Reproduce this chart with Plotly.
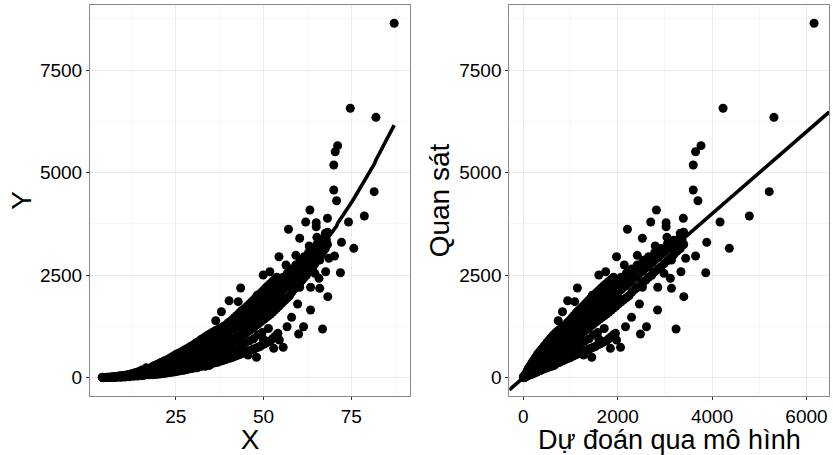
import numpy as np
import plotly.graph_objects as go

# ---- Dense band of observations: X value, model prediction, observed Y values ----
band_x = [
    4.1, 4.6, 5.2, 5.8, 6.4, 7.0,
    7.6, 8.2, 8.8, 9.4, 10.0, 10.6,
    11.2, 11.8, 12.4, 13.0, 13.6, 14.2,
    14.8, 15.4, 16.0, 16.6, 17.2, 17.8,
    18.4, 19.0, 19.6, 20.2, 20.8, 21.4,
    22.0, 22.6, 23.2, 23.8, 24.4, 25.0,
    25.6, 26.2, 26.8, 27.4, 28.0, 28.6,
    29.2, 29.8, 30.4, 31.0, 31.6, 32.2,
    32.8, 33.4, 34.0, 34.6, 35.2, 35.8,
    36.4, 37.0, 37.6, 38.2, 38.8, 39.4,
    40.0, 40.6, 41.2, 41.8, 42.4, 43.0,
    43.6, 44.2, 44.8, 45.4, 46.0, 46.6,
    47.2, 47.8, 48.4, 49.0, 49.6, 50.2,
    50.8, 51.4, 52.0, 52.6, 53.2, 53.8,
    54.4, 55.0, 55.6, 56.2, 56.8, 57.4,
    58.0, 58.6, 59.2, 59.8, 60.4, 61.0,
    61.6, 62.2, 62.8, 63.4, 64.0, 64.6,
    65.2, 65.8, 66.4, 67.0, 67.6, 68.2,
]
band_pred = [
    3.6, 4.9, 6.7, 8.8, 10.9, 13.8,
    17.1, 20.2, 24.2, 28.1, 32.6, 37.6,
    42.9, 48.7, 54.9, 61.5, 68.5, 76.0,
    83.8, 92.3, 101.7, 111.2, 121.3, 131.8,
    142.9, 154.2, 166.0, 178.9, 191.7, 205.3,
    219.9, 234.6, 249.9, 266.1, 282.6, 299.6,
    317.6, 335.6, 354.5, 374.0, 394.0, 414.0,
    436.4, 458.0, 481.0, 504.2, 528.0, 552.6,
    578.0, 603.9, 630.3, 657.0, 685.0, 714.0,
    743.0, 773.4, 804.0, 835.7, 868.0, 900.7,
    934.1, 968.0, 1004, 1039, 1076, 1113,
    1151, 1190, 1229, 1269, 1310, 1352,
    1394, 1438, 1482, 1527, 1573, 1619,
    1666, 1714, 1762, 1812, 1863, 1913,
    1966, 2019, 2073, 2128, 2183, 2240,
    2296, 2354, 2413, 2472, 2533, 2594,
    2656, 2719, 2783, 2848, 2914, 2980,
    3048, 3116, 3185, 3255, 3326, 3398,
]
band_y = [
    [2, 10], [6, 1], [4, 14], [9, 3], [16, 6], [10, 22],
    [12, 28, 5], [30, 14], [18, 40], [22, 12, 45], [25, 55], [30, 18, 60],
    [35, 70], [40, 25, 80], [45, 95], [50, 35, 110], [55, 125], [65, 40, 140],
    [70, 160], [80, 50, 190], [90, 150, 60], [95, 240], [110, 70, 200], [120, 180],
    [130, 85, 260, 270, 75], [140, 220, 300, 80], [150, 95, 300, 320, 85],
    [160, 250, 110, 340, 90], [175, 330, 370, 95], [185, 120, 290, 390, 105],
    [200, 380, 140, 420, 110], [210, 330, 440, 120], [225, 150, 420, 470, 125],
    [240, 360, 170, 500, 135], [255, 470, 530, 140], [270, 180, 420, 560, 150],
    [285, 540, 200, 590, 160], [300, 460, 610, 170], [320, 210, 600, 640, 180],
    [335, 500, 230, 670, 185], [350, 650, 250, 700, 200], [370, 560, 720, 210],
    [390, 270, 720, 760, 220], [410, 620, 290, 790, 230], [430, 780, 300, 820, 240],
    [450, 680, 320, 240, 860, 250], [470, 850, 330, 640, 890, 265], [490, 740, 350, 930, 275],
    [510, 900, 370, 700, 960, 290], [530, 800, 390, 280, 990, 300], [560, 980, 410, 760, 1030, 315],
    [580, 880, 420, 300, 1060, 330], [610, 1050, 440, 820, 1090, 345], [630, 940, 460, 1120, 360],
    [660, 1120, 480, 880, 1150, 370], [690, 1020, 500, 380, 1170, 390], [710, 1180, 520, 950, 1200, 400],
    [740, 1100, 540, 420, 1230, 420], [770, 1250, 560, 1020, 1260, 435], [800, 1180, 580, 460, 1290, 450],
    [830, 1320, 600, 1100, 1340, 470], [860, 1250, 620, 500, 1380, 480], [890, 1400, 650, 1180, 1420, 500],
    [920, 1330, 680, 540, 1470, 520], [950, 1480, 700, 1250, 1520, 540], [990, 1420, 730, 1570, 560],
    [1020, 1550, 760, 1330, 1620, 580], [1050, 1500, 1200, 700, 1660, 600], [1080, 1620, 850, 1400, 1700, 620],
    [1120, 1560, 1300, 1750, 640], [1150, 1700, 900, 1450, 1800, 660], [1190, 1650, 1380, 1850, 680],
    [1230, 1780, 950, 1520, 1900, 700], [1270, 1720, 1450, 1950, 720], [1310, 1850, 1050, 1600, 2000, 740],
    [1350, 1800, 1520, 2050, 760], [1390, 1950, 1100, 1680, 2100, 800], [1430, 1880, 1600, 2150, 820],
    [1470, 2050, 1750, 2200, 850], [1510, 1980, 1200, 1680, 2250, 880], [1550, 2150, 1850, 2300, 900],
    [1600, 2080, 1760, 2350, 950], [1650, 2250, 1950, 2400, 1000], [1700, 2180, 1850, 2450, 1050],
    [1750, 2350, 2050], [1800, 2280, 1950], [1850, 2450, 2150], [1900, 2380], [1950, 2550, 2250], [2000, 2480],
    [2080, 2650, 2350], [2150, 2580], [2200, 2750, 2450], [2250, 2680], [2320, 2850, 2600], [2380, 2780],
    [2450, 2950, 2700], [2500, 2880], [2580, 3050], [2650, 2980], [2700, 3150], [2780, 3080],
    [2850, 3250], [2920, 3180], [3000, 3350], [3080, 3280], [3150, 3450], [3250, 3550],
]

# ---- Individually visible observations away from the band ----
pts_x = [87.2, 74.7, 82.0, 71.1, 70.4, 70.0, 70.0, 70.8, 81.5, 78.7,
         74.2, 75.7, 72.2, 71.9, 68.3, 66.8, 63.2, 62.0, 65.0, 65.0,
         68.2, 57.1, 60.3, 63.0, 65.2, 54.4, 59.2, 56.4, 70.2, 68.6,
         67.7, 49.9, 51.8, 43.5, 48.2, 40.2, 42.8, 38.0, 36.4, 59.7,
         63.4, 58.0, 56.7, 60.0, 61.4, 54.1, 52.9, 55.6, 48.0, 45.6,
         49.9, 50.9, 63.4, 66.0, 65.8, 60.3, 59.4, 60.8, 66.9, 67.9,
         67.6, 66.0, 64.6, 54.5, 43.8]
pts_y = [8644, 6571, 6350, 5659, 5512, 5188, 4578, 4317, 4537, 3944,
         3798, 3156, 3302, 2561, 1976, 1188, 4090, 3798, 3781, 3683,
         3888, 3620, 3400, 3212, 3424, 2951, 2985, 2749, 2968, 2912,
         2585, 2505, 2585, 2188, 2010, 1878, 1854, 1610, 1390, 1797,
         1651, 1473, 1244, 1066, 1244, 1083, 717, 741, 498, 554,
         944, 878, 2205, 2180, 2424, 2205, 2707, 2871, 3156, 3359,
         3522, 2871, 2546, 920, 798]
pts_pred = [6160, 4232, 5310, 3765, 3650, 3600, 3600, 3700, 5210, 4789,
            4168, 4365, 3886, 3865, 3400, 3236, 2820, 2700, 3025, 3025,
            3390, 2206, 2522, 2795, 3043, 1975, 2415, 2140, 3650, 3440,
            3340, 1600, 1745, 1145, 1462, 940, 1090, 830, 740, 2460,
            2845, 2293, 2165, 2482, 2610, 1952, 1845, 2060, 1450, 1277,
            1600, 1673, 2848, 3139, 3116, 2523, 2432, 2574, 3243, 3362,
            3326, 3139, 2980, 1975, 1164]

# reference line on the observed-vs-predicted panel
ref_intercept = 0.0
ref_slope = 1.0

# axis settings
x_range = [0.6, 91.7]
y_range = [-446, 9090]
pred_range = [-297, 6483]
x_ticks = [25, 50, 75]
y_ticks = [0, 2500, 5000, 7500]
pred_ticks = [0, 2000, 4000, 6000]

# ---- assemble the full data set ----
x_all, y_all, p_all = [], [], []
for bx, bp, ys in zip(band_x, band_pred, band_y):
    for yy in ys:
        x_all.append(bx)
        y_all.append(yy)
        p_all.append(bp)
x_all += pts_x
y_all += pts_y
p_all += pts_pred
x_all = np.array(x_all, dtype=float)
y_all = np.array(y_all, dtype=float)
p_all = np.array(p_all, dtype=float)

order = np.lexsort((p_all, x_all))
ref_x = np.array(pred_range, dtype=float)
ref_y = ref_intercept + ref_slope * ref_x

FONT = "Liberation Sans, Arial, sans-serif"
dot = dict(color="black", size=9, line=dict(width=0))

fig = go.Figure()
fig.add_trace(go.Scatter(x=x_all, y=y_all, mode="markers", marker=dot,
                         xaxis="x", yaxis="y", showlegend=False))
fig.add_trace(go.Scatter(x=x_all[order], y=p_all[order], mode="lines",
                         line=dict(color="black", width=3.6),
                         xaxis="x", yaxis="y", showlegend=False))
fig.add_trace(go.Scatter(x=p_all, y=y_all, mode="markers", marker=dot,
                         xaxis="x2", yaxis="y2", showlegend=False))
fig.add_trace(go.Scatter(x=ref_x, y=ref_y, mode="lines",
                         line=dict(color="black", width=3.6),
                         xaxis="x2", yaxis="y2", showlegend=False))

grid_major = "#EBEBEB"
grid_minor = "#F5F5F5"
border = "#8A8A8A"


def axis_style(tickvals, rng, domain, minor_step, title, standoff, anchor, title_size=28):
    return dict(
        domain=domain, range=rng, anchor=anchor,
        tickmode="array", tickvals=tickvals,
        ticks="outside", ticklen=3, tickwidth=1, tickcolor="#333333",
        tickfont=dict(family=FONT, size=19, color="black"),
        showgrid=True, gridcolor=grid_major, gridwidth=1,
        minor=dict(showgrid=True, gridcolor=grid_minor, gridwidth=1,
                   tickmode="linear", tick0=0, dtick=minor_step),
        showline=True, linecolor=border, linewidth=1, mirror=True,
        zeroline=False,
        title=dict(text=title, font=dict(family=FONT, size=title_size, color="black"),
                   standoff=standoff),
    )


xd1 = [90 / 833, 410 / 833]
xd2 = [509.3 / 833, 829.3 / 833]
yd = [1 - 396 / 455, 1 - 5 / 455]

fig.update_layout(
    width=833, height=455, autosize=False,
    margin=dict(l=0, r=0, t=0, b=0),
    paper_bgcolor="white", plot_bgcolor="white",
    xaxis=axis_style(x_ticks, x_range, xd1, 12.5, "X", 5, "y"),
    yaxis=axis_style(y_ticks, y_range, yd, 1250, "Y", 0, "x"),
    xaxis2=axis_style(pred_ticks, pred_range, xd2, 1000, "Dự đoán qua mô hình", 8, "y2", 27),
    yaxis2=axis_style(y_ticks, y_range, yd, 1250, "Quan sát", 1, "x2"),
)

fig.write_html("out.html")
